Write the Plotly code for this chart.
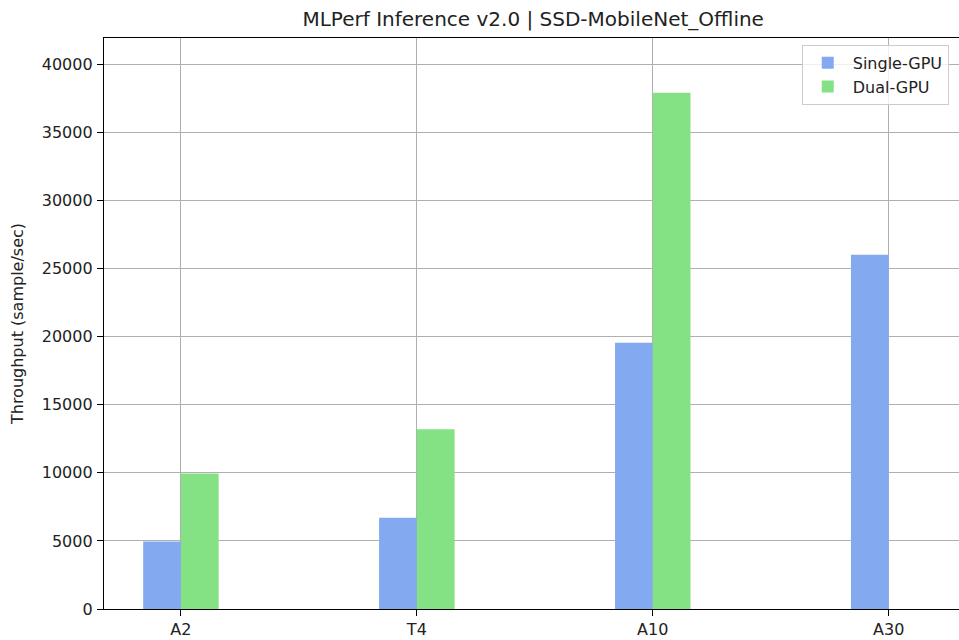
import plotly.graph_objects as go

categories = ["A2", "T4", "A10", "A30"]
single_gpu = [4950, 6700, 19550, 26000]
dual_gpu = [9950, 13200, 37900, None]
series_names = ["Single-GPU", "Dual-GPU"]
title_text = "MLPerf Inference v2.0 | SSD-MobileNet_Offline"
y_label = "Throughput (sample/sec)"

FONT = "DejaVu Sans"
TXT = "#222222"

fig = go.Figure()
fig.add_trace(go.Bar(x=categories, y=single_gpu, name=series_names[0],
                     marker=dict(color="#83AAF0", line=dict(width=0))))
fig.add_trace(go.Bar(x=categories, y=dual_gpu, name=series_names[1],
                     marker=dict(color="#84E184", line=dict(width=0))))

fig.update_layout(
    width=959, height=640,
    margin=dict(l=104, r=0, t=38, b=31, autoexpand=False),
    paper_bgcolor="white", plot_bgcolor="white",
    barmode="group", bargap=0.68, bargroupgap=0,
    font=dict(family=FONT, size=16, color=TXT),
    title=dict(text=title_text, x=0.502, xref="paper", y=1 - 19 / 640,
               yref="container", xanchor="center", yanchor="middle",
               font=dict(family=FONT, size=20, color=TXT)),
    legend=dict(x=0.988, y=0.988, xanchor="right", yanchor="top",
                bgcolor="rgba(255,255,255,0.8)", bordercolor="#cccccc", borderwidth=1,
                font=dict(family=FONT, size=16, color=TXT),
                itemwidth=40, tracegroupgap=4),
    showlegend=True,
)
fig.update_xaxes(type="category", range=[-0.326, 3.298], layer="above traces",
                 showgrid=True, gridcolor="#b0b0b0", gridwidth=1,
                 showline=True, linecolor="#000000", linewidth=1.3, mirror=True,
                 ticks="outside", ticklen=6, tickcolor="#000000", tickwidth=1.3,
                 tickfont=dict(family=FONT, size=16, color=TXT), zeroline=False,
                 automargin=False)
fig.update_yaxes(range=[0, 41923], dtick=5000, tick0=0, tickformat="d",
                 layer="above traces",
                 showgrid=True, gridcolor="#b0b0b0", gridwidth=1,
                 showline=True, linecolor="#000000", linewidth=1.3,
                 ticks="outside", ticklen=6, tickcolor="#000000", tickwidth=1.3,
                 ticklabelstandoff=1,
                 tickfont=dict(family=FONT, size=16, color=TXT), zeroline=False,
                 automargin=False,
                 title=dict(text=y_label, standoff=14,
                            font=dict(family=FONT, size=16, color=TXT)))

fig.write_html("out.html", config={"displayModeBar": False},
               post_script="document.body.style.margin='0';")
